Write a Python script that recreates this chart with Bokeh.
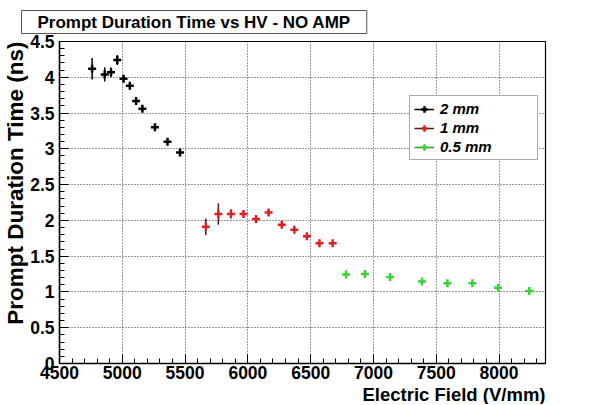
import numpy as np
from bokeh.plotting import figure
from bokeh.models import (ColumnDataSource, Legend, LegendItem, Title, FixedTicker,
                          CustomJSTickFormatter, Range1d)
from bokeh.embed import file_html
from bokeh.resources import INLINE

# ---- data ----
field_2mm = [4760, 4860, 4910, 4960, 5010, 5060, 5110, 5160, 5260, 5360, 5460]
time_2mm = [4.12, 4.04, 4.07, 4.24, 3.98, 3.88, 3.67, 3.56, 3.30, 3.10, 2.95]
err_2mm = [0.15, 0.10, 0.065, 0.07, 0.03, 0.02, 0.02, 0.02, 0.015, 0.015, 0.02]

field_1mm = [5665, 5765, 5865, 5965, 6065, 6165, 6270, 6370, 6470, 6570, 6675]
time_1mm = [1.91, 2.09, 2.09, 2.09, 2.02, 2.11, 1.94, 1.87, 1.78, 1.68, 1.68]
err_1mm = [0.115, 0.15, 0.065, 0.045, 0.03, 0.04, 0.02, 0.02, 0.02, 0.02, 0.02]

field_05mm = [6782, 6932, 7133, 7387, 7589, 7788, 7992, 8241]
time_05mm = [1.245, 1.25, 1.21, 1.146, 1.12, 1.12, 1.057, 1.014]
err_05mm = [0.05, 0.055, 0.02, 0.02, 0.02, 0.02, 0.025, 0.02]

series_labels = ["2 mm", "1 mm", "0.5 mm"]
x_major_ticks = [4500, 5000, 5500, 6000, 6500, 7000, 7500, 8000]
y_major_ticks = [0, 0.5, 1, 1.5, 2, 2.5, 3, 3.5, 4, 4.5]

FONT = "Liberation Sans"

p = figure(frame_width=486, frame_height=322,
           min_border_left=54, min_border_right=56, min_border_top=0, min_border_bottom=0,
           x_range=Range1d(4500, 8370), y_range=Range1d(0, 4.5),
           output_backend="svg", toolbar_location=None)
p.background_fill_color = "white"
p.border_fill_color = "white"
p.outline_line_color = "black"
p.outline_line_width = 1.2

# axes
p.xaxis.ticker = FixedTicker(ticks=x_major_ticks, minor_ticks=list(np.arange(4500, 8400, 100)))
p.yaxis.ticker = FixedTicker(ticks=y_major_ticks, minor_ticks=list(np.round(np.arange(0, 4.55, 0.1), 2)))
p.yaxis.formatter = CustomJSTickFormatter(code="return tick.toString()")
for ax in (p.xaxis, p.yaxis):
    ax.major_tick_in = 9
    ax.major_tick_out = 0
    ax.minor_tick_in = 5
    ax.minor_tick_out = 0
    ax.axis_line_color = "black"
    ax.axis_line_width = 1.5
    ax.major_tick_line_color = "black"
    ax.minor_tick_line_color = "black"
    ax.major_label_text_font = FONT
    ax.major_label_text_font_style = "bold"
    ax.major_label_text_font_size = "17.5px"
    ax.major_label_text_color = "black"
p.xaxis.major_label_standoff = 2
p.yaxis.major_label_standoff = 5

p.grid.grid_line_color = "#333333"
p.grid.grid_line_dash = "1 2"
p.grid.grid_line_width = 1

def add_series(xs, ys, es, mcolor, bcolor):
    src = ColumnDataSource(dict(x=xs, y=ys,
                                lo=[a - b for a, b in zip(ys, es)],
                                hi=[a + b for a, b in zip(ys, es)]))
    seg = p.segment(x0="x", y0="lo", x1="x", y1="hi", source=src,
                    line_color=bcolor, line_width=1.5)
    mk = p.scatter(x="x", y="y", source=src, marker="cross", size=8,
                   line_color=mcolor, line_width=2.5)
    return seg, mk

r2 = add_series(field_2mm, time_2mm, err_2mm, "black", "black")
r1 = add_series(field_1mm, time_1mm, err_1mm, "#e02020", "#5a1515")
r05 = add_series(field_05mm, time_05mm, err_05mm, "#33d633", "#22a022")

legend = Legend(items=[LegendItem(label=series_labels[0], renderers=list(r2)),
                       LegendItem(label=series_labels[1], renderers=list(r1)),
                       LegendItem(label=series_labels[2], renderers=list(r05))],
                location=(350, 203))
legend.label_text_font = FONT
legend.label_text_font_style = "bold italic"
legend.label_text_font_size = "15px"
legend.label_text_color = "black"
legend.label_height = 16
legend.glyph_height = 16
legend.glyph_width = 20
legend.label_standoff = 6
legend.label_width = 93
legend.spacing = 2
legend.padding = 4
legend.margin = 0
legend.border_line_color = "#555555"
legend.border_line_width = 1
legend.background_fill_color = "white"
legend.background_fill_alpha = 1
p.add_layout(legend, "center")

# title box (above)
title = Title(text="Prompt Duration Time vs HV - NO AMP", align="left", offset=-38,
              text_font=FONT, text_font_style="bold", text_font_size="17px",
              text_color="black", background_fill_color="white",
              border_line_color="#555555", border_line_width=1,
              padding=(16, 2), standoff=16)
p.add_layout(title, "above")

# axis titles as side titles so they are not clipped
xlab = Title(text="Electric Field (V/mm)", align="right", offset=0,
             text_font=FONT, text_font_style="bold", text_font_size="18.5px",
             text_color="black", standoff=0)
p.add_layout(xlab, "below")
ylab = Title(text="Prompt Duration Time (ns)", align="right", offset=0,
             text_font=FONT, text_font_style="bold", text_font_size="22.5px",
             text_color="black", standoff=0)
p.add_layout(ylab, "left")

open("out.html", "w").write(file_html(p, INLINE))
